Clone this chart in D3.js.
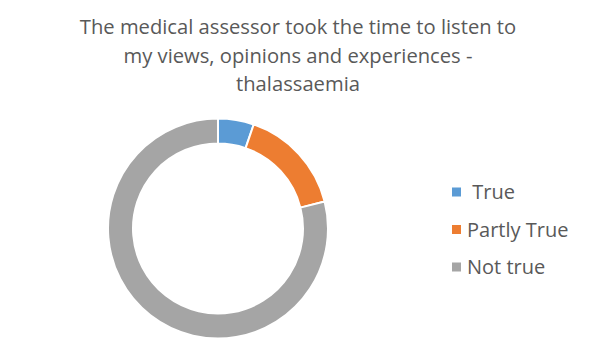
<!DOCTYPE html>
<html><head><meta charset="utf-8">
<script src="https://cdn.jsdelivr.net/npm/d3@7"></script>
<style>body{margin:0;background:#fff;} svg{display:block;}</style>
</head><body>
<script>
const titleLines = ["The medical assessor took the time to listen to", "my views, opinions and experiences -", "thalassaemia"];
const categories = ["True", "Partly True", "Not true"];
const values = [1, 3, 15];
const colors = ["#5B9BD5", "#ED7D31", "#A5A5A5"];
const legendLabels = [" True", "Partly True", "Not true"];

const W = 596, H = 357;
const svg = d3.select("body").append("svg").attr("width", W).attr("height", H);
const font = "'Open Sans', sans-serif";

svg.append("g").selectAll("text").data(titleLines).join("text")
  .attr("x", 298).attr("y", (d, i) => 34 + i * 28.5)
  .attr("text-anchor", "middle").attr("font-family", font).attr("font-size", 20.2)
  .attr("fill", "#595959").text(d => d);

const pie = d3.pie().sort(null).value(d => d)(values);
const arc = d3.arc().innerRadius(85).outerRadius(110);
svg.append("g").attr("transform", "translate(218,228.5)")
  .selectAll("path").data(pie).join("path")
  .attr("d", arc).attr("fill", (d, i) => colors[i])
  .attr("stroke", "#fff").attr("stroke-width", 2);

const leg = svg.append("g").selectAll("g").data(categories).join("g")
  .attr("transform", (d, i) => `translate(452,${192 + i * 37.5})`);
leg.append("rect").attr("x", 0).attr("y", -4.5).attr("width", 9).attr("height", 9)
  .attr("fill", (d, i) => colors[i]);
leg.append("text").attr("x", 15).attr("y", 7).attr("font-family", font).attr("font-size", 20)
  .attr("fill", "#595959").attr("xml:space", "preserve").style("white-space", "pre")
  .text((d, i) => legendLabels[i]);
</script>
</body></html>
